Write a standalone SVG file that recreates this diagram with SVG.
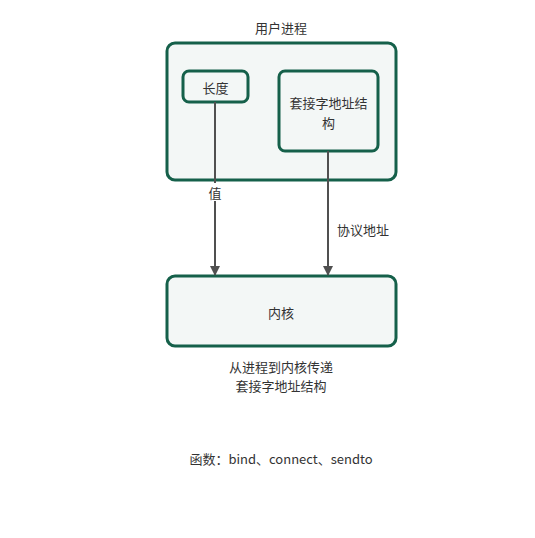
<svg xmlns="http://www.w3.org/2000/svg" width="535" height="538" viewBox="0 0 535 538">
  <defs>
    <style>
      .box { fill: #f3f7f6; stroke: #15604a; stroke-width: 3; }
      .txt { font-family: "Noto Sans CJK SC", "Liberation Sans", sans-serif; font-size: 13px; fill: #333333; text-anchor: middle; dominant-baseline: central; }
      .edge { stroke: #505050; stroke-width: 2; fill: none; marker-end: url(#arrow); }
    </style>
    <marker id="arrow" viewBox="0 0 10 10" refX="9" refY="5" markerWidth="5" markerHeight="5" orient="auto" markerUnits="strokeWidth">
      <path d="M0,0 L10,5 L0,10 z" fill="#505050"/>
    </marker>
  </defs>
  <rect width="535" height="538" fill="#ffffff"/>

  <g id="user-process">
    <rect class="box" x="167" y="43" width="229" height="137" rx="8"/>
    <text class="txt" x="281" y="27">用户进程</text>
  </g>
  <g id="length">
    <rect class="box" x="183" y="71" width="65" height="31" rx="6"/>
    <text class="txt" x="215.5" y="87">长度</text>
  </g>
  <g id="sockaddr">
    <rect class="box" x="279" y="71" width="99" height="80" rx="6"/>
    <text class="txt" x="328.5" y="102">套接字地址结</text>
    <text class="txt" x="328.5" y="122">构</text>
  </g>
  <g id="kernel">
    <rect class="box" x="167" y="276" width="229" height="70" rx="8"/>
    <text class="txt" x="281" y="312">内核</text>
  </g>

  <g id="connectors">
    <path class="edge" d="M215,102 L215,275"/>
    <path class="edge" d="M328,151 L328,275"/>
    <rect x="206" y="183" width="18" height="18" fill="#ffffff"/>
    <text class="txt" x="215" y="192">值</text>
    <text class="txt" x="363" y="229">协议地址</text>
  </g>

  <g id="notes">
    <text class="txt" x="281" y="366">从进程到内核传递</text>
    <text class="txt" x="281" y="385">套接字地址结构</text>
    <text class="txt" x="281" y="458">函数：bind、connect、sendto</text>
  </g>
</svg>
